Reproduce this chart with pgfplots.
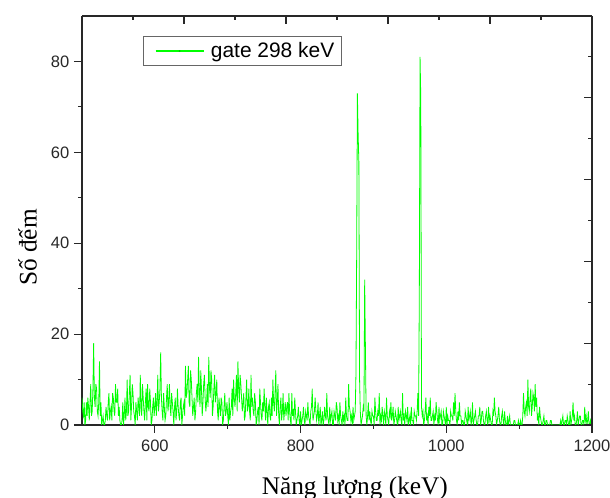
\documentclass[border=0pt]{standalone}
\usepackage{pgfplots}
\pgfplotsset{compat=1.18}
\usepackage{fontspec}
\setmainfont{Liberation Sans}
\newfontfamily\serifvn{Liberation Serif}
\definecolor{specgreen}{RGB}{0,255,0}
\definecolor{dotgreen}{RGB}{0,190,0}
\definecolor{axgray}{RGB}{40,40,40}
\begin{document}
\begin{tikzpicture}
\useasboundingbox (0,0) rectangle (457.5pt,373.5pt);
\begin{axis}[
  at={(61.5pt,54.75pt)}, anchor=south west,
  scale only axis, width=382.5pt, height=306.75pt,
  xmin=500, xmax=1200, ymin=0, ymax=90,
  axis x line*=bottom, axis y line*=left,
  axis line style={axgray, line width=0.9pt},
  xtick={600,800,1000,1200}, minor xtick={700,900,1100},
  ytick={0,20,40,60,80}, minor ytick={10,30,50,70},
  tick align=outside, major tick length=6pt, minor tick length=3pt,
  every tick/.style={axgray, line width=0.8pt},
  tick label style={font=\fontsize{12.4}{14}\selectfont, text=axgray},
  /pgf/number format/assume math mode=true,
  /pgf/number format/1000 sep={},
  xticklabel style={yshift=-2pt},
  xlabel={Năng lượng (keV)},
  ylabel={Số đếm},
  every axis x label/.style={at={(axis description cs:0.535,0)}, anchor=base, yshift=-52pt, font=\serifvn\fontsize{19}{22}\selectfont},
  every axis y label/.style={at={([xshift=-34pt]axis description cs:0,0.434)}, rotate=90, anchor=base, font=\serifvn\fontsize{19}{22}\selectfont},
  legend style={at={(axis description cs:0.12,0.951)}, anchor=north west,
    draw=black!60, line width=0.6pt, font=\fontsize{15.7}{18}\selectfont,
    inner xsep=3.5pt, inner ysep=2.5pt},
  legend image code/.code={\path[draw=none] (0pt,0pt) -- (45pt,0pt); \pgfsetstrokecolor{specgreen}\pgfsetlinewidth{1.1pt}\pgfpathmoveto{\pgfpoint{5.5pt}{0pt}}\pgfpathlineto{\pgfpoint{41.5pt}{0pt}}\pgfusepath{stroke} \pgfsetfillcolor{dotgreen}\pgfpathcircle{\pgfpoint{23.5pt}{0pt}}{0.7pt}\pgfusepath{fill}},
]
\addplot[specgreen, line width=0.6pt] table[row sep=\\] {
x y\\
500 6\\501 3\\502 2\\503 5\\504 0\\505 1\\506 5\\507 2\\508 6\\509 4\\
510 1\\511 5\\512 9\\513 2\\514 3\\515 8\\516 18\\517 6\\518 4\\519 9\\
520 8\\521 3\\522 2\\523 5\\524 14\\525 2\\526 5\\527 0\\528 1\\529 2\\
530 0\\531 0\\532 1\\533 4\\534 2\\535 1\\536 5\\537 7\\538 1\\539 3\\
540 4\\541 1\\542 7\\543 6\\544 3\\545 2\\546 9\\547 5\\548 5\\549 8\\
550 2\\551 4\\552 1\\553 0\\554 0\\555 1\\556 5\\557 0\\558 2\\559 6\\
560 1\\561 3\\562 10\\563 2\\564 3\\565 7\\566 11\\567 1\\568 4\\569 9\\
570 7\\571 3\\572 2\\573 0\\574 5\\575 3\\576 1\\577 6\\578 4\\579 2\\
580 11\\581 4\\582 2\\583 9\\584 6\\585 3\\586 1\\587 5\\588 8\\589 1\\
590 9\\591 4\\592 3\\593 8\\594 5\\595 0\\596 1\\597 4\\598 6\\599 2\\
600 4\\601 7\\602 2\\603 5\\604 11\\605 3\\606 5\\607 8\\608 16\\609 6\\
610 3\\611 1\\612 7\\613 4\\614 1\\615 2\\616 6\\617 9\\618 3\\619 5\\
620 9\\621 4\\622 2\\623 7\\624 5\\625 3\\626 0\\627 4\\628 6\\629 1\\
630 3\\631 8\\632 4\\633 2\\634 1\\635 5\\636 6\\637 0\\638 2\\639 4\\
640 5\\641 2\\642 13\\643 6\\644 7\\645 10\\646 13\\647 5\\648 4\\649 12\\
650 10\\651 6\\652 2\\653 4\\654 6\\655 1\\656 3\\657 7\\658 9\\659 5\\
660 15\\661 7\\662 4\\663 12\\664 8\\665 2\\666 5\\667 9\\668 11\\669 6\\
670 3\\671 5\\672 9\\673 4\\674 15\\675 8\\676 6\\677 12\\678 10\\679 2\\
680 4\\681 8\\682 11\\683 5\\684 7\\685 10\\686 3\\687 1\\688 6\\689 4\\
690 2\\691 6\\692 5\\693 0\\694 1\\695 4\\696 7\\697 2\\698 3\\699 5\\
700 2\\701 0\\702 6\\703 1\\704 3\\705 4\\706 8\\707 2\\708 10\\709 6\\
710 4\\711 7\\712 11\\713 3\\714 14\\715 8\\716 5\\717 11\\718 9\\719 6\\
720 3\\721 5\\722 7\\723 1\\724 2\\725 6\\726 10\\727 3\\728 4\\729 8\\
730 3\\731 1\\732 11\\733 4\\734 6\\735 3\\736 2\\737 7\\738 5\\739 0\\
740 1\\741 3\\742 4\\743 0\\744 8\\745 5\\746 2\\747 1\\748 5\\749 3\\
750 8\\751 4\\752 1\\753 6\\754 3\\755 0\\756 4\\757 5\\758 2\\759 1\\
760 6\\761 2\\762 10\\763 5\\764 3\\765 7\\766 12\\767 2\\768 5\\769 9\\
770 2\\771 0\\772 4\\773 6\\774 1\\775 3\\776 7\\777 1\\778 3\\779 5\\
780 2\\781 4\\782 5\\783 1\\784 7\\785 3\\786 1\\787 0\\788 7\\789 2\\
790 3\\791 1\\792 6\\793 3\\794 0\\795 1\\796 2\\797 4\\798 1\\799 0\\
800 3\\801 0\\802 1\\803 2\\804 4\\805 1\\806 0\\807 3\\808 2\\809 1\\
810 5\\811 2\\812 1\\813 0\\814 3\\815 4\\816 8\\817 1\\818 2\\819 3\\
820 6\\821 3\\822 1\\823 2\\824 5\\825 0\\826 2\\827 4\\828 0\\829 1\\
830 3\\831 0\\832 1\\833 4\\834 2\\835 1\\836 7\\837 2\\838 1\\839 0\\
840 4\\841 1\\842 2\\843 3\\844 0\\845 0\\846 3\\847 2\\848 1\\849 5\\
850 4\\851 1\\852 2\\853 0\\854 5\\855 2\\856 1\\857 0\\858 3\\859 1\\
860 2\\861 0\\862 6\\863 2\\864 1\\865 1\\866 9\\867 4\\868 3\\869 1\\
870 2\\871 0\\872 4\\873 1\\874 2\\875 3\\876 11\\877 37\\878 73\\879 64\\
880 58\\881 10\\882 3\\883 0\\884 1\\885 2\\886 4\\887 3\\888 32\\889 17\\
890 2\\891 0\\892 2\\893 5\\894 1\\895 3\\896 1\\897 0\\898 3\\899 2\\
900 2\\901 0\\902 6\\903 3\\904 1\\905 1\\906 3\\907 2\\908 7\\909 0\\
910 2\\911 1\\912 4\\913 2\\914 0\\915 3\\916 2\\917 0\\918 6\\919 2\\
920 1\\921 0\\922 3\\923 2\\924 5\\925 1\\926 2\\927 4\\928 0\\929 1\\
930 3\\931 2\\932 1\\933 0\\934 4\\935 1\\936 2\\937 3\\938 1\\939 0\\
940 7\\941 1\\942 2\\943 0\\944 3\\945 2\\946 1\\947 4\\948 0\\949 1\\
950 2\\951 0\\952 4\\953 1\\954 1\\955 0\\956 3\\957 2\\958 2\\959 1\\
960 3\\961 7\\962 2\\963 29\\964 81\\965 72\\966 4\\967 2\\968 3\\969 0\\
970 1\\971 3\\972 6\\973 1\\974 2\\975 0\\976 4\\977 2\\978 6\\979 1\\
980 1\\981 2\\982 3\\983 0\\984 2\\985 1\\986 5\\987 3\\988 1\\989 0\\
990 4\\991 1\\992 2\\993 3\\994 0\\995 0\\996 3\\997 2\\998 1\\999 0\\
1000 4\\1001 0\\1002 2\\1003 1\\1004 1\\1005 0\\1006 3\\1007 2\\1008 2\\1009 1\\
1010 5\\1011 2\\1012 7\\1013 3\\1014 1\\1015 0\\1016 3\\1017 1\\1018 5\\1019 2\\
1020 2\\1021 0\\1022 1\\1023 1\\1024 0\\1025 0\\1026 3\\1027 2\\1028 1\\1029 0\\
1030 4\\1031 1\\1032 2\\1033 3\\1034 0\\1035 1\\1036 5\\1037 0\\1038 1\\1039 2\\
1040 3\\1041 1\\1042 0\\1043 0\\1044 2\\1045 2\\1046 4\\1047 0\\1048 1\\1049 3\\
1050 3\\1051 1\\1052 0\\1053 0\\1054 2\\1055 3\\1056 1\\1057 0\\1058 4\\1059 1\\
1060 2\\1061 1\\1062 0\\1063 0\\1064 3\\1065 2\\1066 6\\1067 3\\1068 2\\1069 0\\
1070 1\\1071 2\\1072 4\\1073 1\\1074 0\\1075 0\\1076 2\\1077 3\\1078 1\\1079 0\\
1080 3\\1081 1\\1082 0\\1083 0\\1084 2\\1085 0\\1086 1\\1087 2\\1088 0\\1089 0\\
1090 0\\1091 0\\1092 0\\1093 1\\1094 1\\1095 0\\1096 0\\1097 0\\1098 0\\1099 1\\
1100 0\\1101 0\\1102 1\\1103 0\\1104 0\\1105 2\\1106 7\\1107 3\\1108 2\\1109 4\\
1110 5\\1111 2\\1112 10\\1113 4\\1114 3\\1115 6\\1116 8\\1117 2\\1118 4\\1119 7\\
1120 6\\1121 3\\1122 9\\1123 4\\1124 6\\1125 1\\1126 2\\1127 0\\1128 4\\1129 2\\
1130 1\\1131 0\\1132 0\\1133 1\\1134 2\\1135 0\\1136 0\\1137 1\\1138 1\\1139 0\\
1140 0\\1141 0\\1142 0\\1143 1\\1144 1\\1145 0\\1146 0\\1147 0\\1148 0\\1149 0\\
1150 0\\1151 0\\1152 0\\1153 0\\1154 0\\1155 0\\1156 0\\1157 1\\1158 0\\1159 1\\
1160 2\\1161 0\\1162 0\\1163 1\\1164 1\\1165 0\\1166 2\\1167 1\\1168 0\\1169 0\\
1170 3\\1171 0\\1172 1\\1173 2\\1174 5\\1175 1\\1176 2\\1177 0\\1178 0\\1179 1\\
1180 3\\1181 0\\1182 1\\1183 2\\1184 2\\1185 0\\1186 0\\1187 1\\1188 1\\1189 0\\
1190 4\\1191 1\\1192 2\\1193 0\\1194 1\\1195 3\\1196 0\\1197 0\\1198 1\\1199 0\\
1200 1\\
};
\addlegendentry{gate 298 keV}
\end{axis}
\begin{axis}[
  at={(61.5pt,54.75pt)}, anchor=south west,
  scale only axis, width=382.5pt, height=306.75pt,
  xmin=0, xmax=10, ymin=0, ymax=100,
  axis x line*=top, axis y line*=right,
  axis line style={axgray, line width=0.9pt},
  xtick={0,2,4,6,8,10}, minor xtick={1,3,5,7,9},
  ytick={0,20,40,60,80,100}, minor ytick={10,30,50,70,90},
  xticklabels={}, yticklabels={},
  tick align=inside, major tick length=6pt, minor tick length=3pt,
  every tick/.style={axgray, line width=0.8pt},
]
\end{axis}
\end{tikzpicture}
\end{document}
